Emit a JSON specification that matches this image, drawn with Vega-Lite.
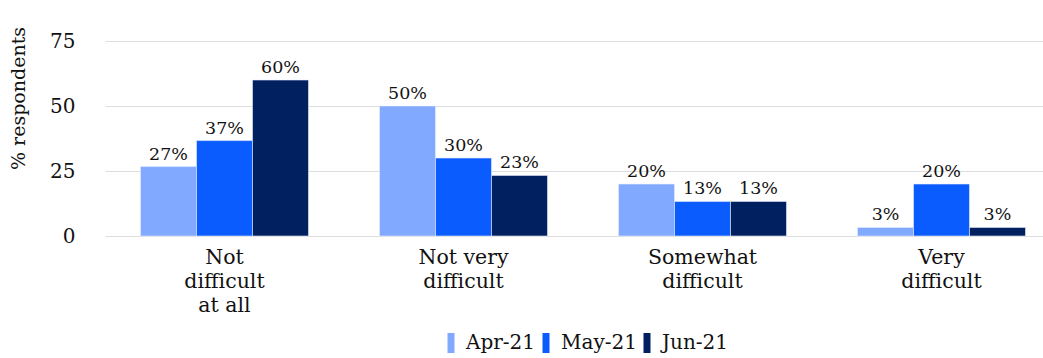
{
  "$schema": "https://vega.github.io/schema/vega-lite/v6.json",
  "width": 963,
  "height": 195,
  "autosize": "none",
  "padding": {"left": 80, "top": 41, "right": 0, "bottom": 122},
  "background": "white",
  "config": {
    "view": {"stroke": null},
    "font": "DejaVu Serif",
    "text": {"font": "DejaVu Serif"}
  },
  "data": {
    "values": [
      {"cat": "Not difficult at all", "month": "Apr-21", "value": 26.7, "label": "27%"},
      {"cat": "Not difficult at all", "month": "May-21", "value": 36.7, "label": "37%"},
      {"cat": "Not difficult at all", "month": "Jun-21", "value": 60.0, "label": "60%"},
      {"cat": "Not very difficult", "month": "Apr-21", "value": 50.0, "label": "50%"},
      {"cat": "Not very difficult", "month": "May-21", "value": 30.0, "label": "30%"},
      {"cat": "Not very difficult", "month": "Jun-21", "value": 23.3, "label": "23%"},
      {"cat": "Somewhat difficult", "month": "Apr-21", "value": 20.0, "label": "20%"},
      {"cat": "Somewhat difficult", "month": "May-21", "value": 13.3, "label": "13%"},
      {"cat": "Somewhat difficult", "month": "Jun-21", "value": 13.3, "label": "13%"},
      {"cat": "Very difficult", "month": "Apr-21", "value": 3.3, "label": "3%"},
      {"cat": "Very difficult", "month": "May-21", "value": 20.0, "label": "20%"},
      {"cat": "Very difficult", "month": "Jun-21", "value": 3.3, "label": "3%"}
    ]
  },
  "encoding": {
    "x": {
      "field": "cat",
      "type": "nominal",
      "sort": null,
      "scale": {"range": [25, 981], "paddingInner": 0, "paddingOuter": 0},
      "axis": {
        "title": null,
        "labelAngle": 0,
        "ticks": false,
        "domain": false,
        "labelFont": "DejaVu Serif",
        "labelFontSize": 20.5,
        "labelColor": "#111111",
        "labelPadding": 11,
        "labelLineHeight": 24,
        "labelExpr": "datum.value == 'Not difficult at all' ? ['Not', 'difficult', 'at all'] : datum.value == 'Not very difficult' ? ['Not very', 'difficult'] : datum.value == 'Somewhat difficult' ? ['Somewhat', 'difficult'] : ['Very', 'difficult']"
      }
    },
    "xOffset": {
      "field": "month",
      "type": "nominal",
      "sort": ["Apr-21", "May-21", "Jun-21"],
      "scale": {"paddingInner": 0, "paddingOuter": 0.634}
    },
    "y": {
      "field": "value",
      "type": "quantitative",
      "scale": {"domain": [0, 75], "nice": false},
      "axis": {
        "values": [0, 25, 50, 75],
        "title": "% respondents",
        "titleFont": "DejaVu Serif",
        "titleFontSize": 19,
        "titleFontWeight": "normal",
        "titleColor": "#111111",
        "titleAngle": -90,
        "titleAlign": "center",
        "titleBaseline": "middle",
        "titleX": -62,
        "titleY": 57,
        "ticks": false,
        "domain": false,
        "labelFont": "DejaVu Serif",
        "labelFontSize": 20,
        "labelColor": "#111111",
        "labelPadding": 5,
        "gridColor": "#dedede",
        "gridWidth": 1
      }
    }
  },
  "layer": [
    {
      "mark": {"type": "bar", "stroke": "#e8eeff", "strokeWidth": 0.6},
      "encoding": {
        "color": {
          "field": "month",
          "type": "nominal",
          "sort": ["Apr-21", "May-21", "Jun-21"],
          "scale": {"domain": ["Apr-21", "May-21", "Jun-21"], "range": ["#80a9ff", "#0a5cff", "#002060"]},
          "legend": {
            "title": null,
            "orient": "none",
            "direction": "horizontal",
            "legendX": 361,
            "legendY": 292,
            "symbolType": "M-0.35,-1L0.35,-1L0.35,1L-0.35,1Z",
            "symbolSize": 400,
            "symbolStrokeWidth": 0,
            "labelFont": "DejaVu Serif",
            "labelFontSize": 20,
            "labelColor": "#111111",
            "labelOffset": 5,
            "columnPadding": 0
          }
        }
      }
    },
    {
      "mark": {"type": "text", "baseline": "bottom", "dy": -3, "fontSize": 17.5, "font": "DejaVu Serif", "color": "#111111"},
      "encoding": {
        "text": {"field": "label"}
      }
    }
  ]
}
